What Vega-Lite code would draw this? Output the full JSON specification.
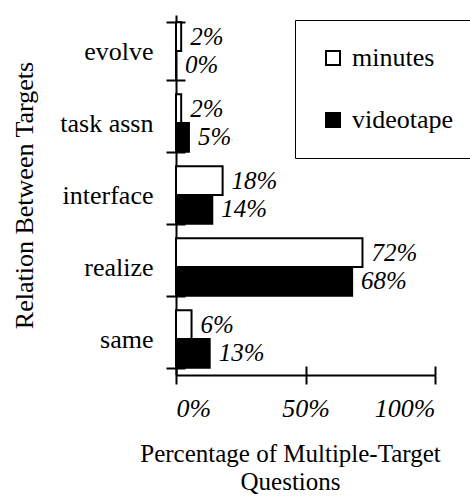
{
  "$schema": "https://vega.github.io/schema/vega-lite/v6.json",
  "width": 259,
  "height": 360,
  "autosize": "none",
  "padding": {"left": 176, "top": 15, "right": 35, "bottom": 126},
  "background": "white",
  "config": {
    "font": "Liberation Serif",
    "view": {"stroke": null},
    "axis": {"domainColor": "black", "domainWidth": 2, "tickColor": "black", "tickWidth": 2, "labelColor": "black", "titleColor": "black", "titleFontWeight": "normal", "grid": false}
  },
  "data": {
    "values": [
      {"relation": "evolve", "series": "minutes", "value": 0.02},
      {"relation": "evolve", "series": "videotape", "value": 0.0},
      {"relation": "task assn", "series": "minutes", "value": 0.02},
      {"relation": "task assn", "series": "videotape", "value": 0.05},
      {"relation": "interface", "series": "minutes", "value": 0.18},
      {"relation": "interface", "series": "videotape", "value": 0.14},
      {"relation": "realize", "series": "minutes", "value": 0.72},
      {"relation": "realize", "series": "videotape", "value": 0.68},
      {"relation": "same", "series": "minutes", "value": 0.06},
      {"relation": "same", "series": "videotape", "value": 0.13}
    ]
  },
  "encoding": {
    "y": {
      "field": "relation", "type": "nominal",
      "sort": ["evolve", "task assn", "interface", "realize", "same"],
      "scale": {"paddingInner": 0.2, "paddingOuter": 0.1}
    },
    "yOffset": {"field": "series", "type": "nominal", "sort": ["minutes", "videotape"], "scale": {"paddingInner": 0, "paddingOuter": 0}},
    "x": {"field": "value", "type": "quantitative", "scale": {"domain": [0, 1], "nice": false}}
  },
  "layer": [
    {
      "mark": {"type": "bar", "stroke": "black", "strokeWidth": 2},
      "encoding": {
        "fill": {
          "field": "series", "type": "nominal",
          "scale": {"domain": ["minutes", "videotape"], "range": ["white", "black"]},
          "legend": {
            "orient": "none", "legendX": 119, "legendY": 5,
            "title": null, "strokeColor": "black", "fillColor": "white",
            "padding": 25, "symbolType": "square", "symbolSize": 196,
            "symbolStrokeColor": "black", "symbolStrokeWidth": 2,
            "labelFontSize": 26, "labelColor": "black", "labelOffset": 6, "rowPadding": 36
          }
        },
        "x": {"field": "value", "type": "quantitative", "axis": {
          "values": [0, 0.5, 1], "format": ".0%", "tickSize": 9, "labelFontSize": 26, "labelFontStyle": "italic",
          "labelPadding": 11, "title": ["Percentage of Multiple-Target", "Questions"], "titleFontSize": 25,
          "titlePadding": 20, "titleX": 114, "titleLineHeight": 28
        }},
        "y": {"field": "relation", "type": "nominal", "sort": ["evolve", "task assn", "interface", "realize", "same"], "axis": {
          "orient": "left", "tickBand": "extent", "tickSize": 10, "labelFontSize": 26, "labelPadding": 13,
          "title": "Relation Between Targets", "titleFontSize": 26, "titlePadding": 22
        }}
      }
    },
    {
      "mark": {"type": "text", "align": "left", "baseline": "middle", "dx": 9, "fontSize": 25, "fontStyle": "italic", "color": "black"},
      "encoding": {
        "text": {"field": "value", "type": "quantitative", "format": ".0%"},
        "x": {"field": "value", "type": "quantitative", "axis": {"orient": "bottom", "values": [0, 0.5, 1], "tickSize": -9, "domain": false, "labels": false, "title": null}},
        "y": {"field": "relation", "type": "nominal", "sort": ["evolve", "task assn", "interface", "realize", "same"], "axis": {"orient": "left", "tickBand": "extent", "tickSize": -9, "domain": false, "labels": false, "title": null}}
      }
    }
  ],
  "resolve": {"axis": {"x": "independent", "y": "independent"}}
}
